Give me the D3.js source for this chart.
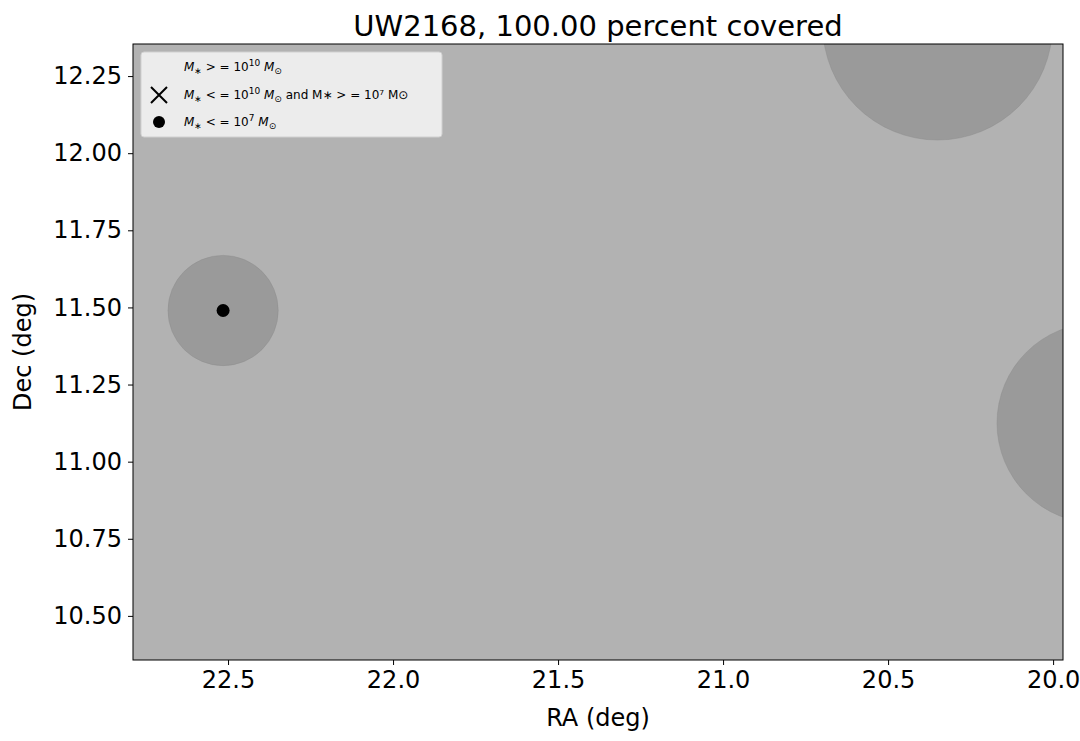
<!DOCTYPE html>
<html><head><meta charset="utf-8">
<script src="https://cdn.jsdelivr.net/npm/d3@7"></script>
<style>body{margin:0;background:#fff;font-family:"DejaVu Sans",sans-serif;}</style>
</head><body>
<svg id="svg1" width="1080" height="741"></svg>
<script>
// coverage circles (RA, Dec, radius in deg)
var circleRA = [22.515, 20.35, 19.867];
var circleDec = [11.49, 12.415, 11.125];
var circleR = [0.167, 0.348, 0.303];
// galaxies below 1e7 Msun
var smallRA = [22.515];
var smallDec = [11.49];
var xTicks = [22.5, 22.0, 21.5, 21.0, 20.5, 20.0];
var yTicks = [10.50, 10.75, 11.00, 11.25, 11.50, 11.75, 12.00, 12.25];

var marginLeft = 133, marginTop = 44, plotW = 930, plotH = 616;
var svg = d3.select('#svg1');

var x = d3.scaleLinear().domain([22.788, 19.97]).range([marginLeft, marginLeft + plotW]);
var y = d3.scaleLinear().domain([10.357, 12.354]).range([marginTop + plotH, marginTop]);

svg.append('defs').append('clipPath').attr('id', 'clip')
    .append('rect').attr('x', marginLeft).attr('y', marginTop).attr('width', plotW).attr('height', plotH);

svg.append('rect').attr('x', marginLeft).attr('y', marginTop).attr('width', plotW).attr('height', plotH)
    .attr('fill', '#b2b2b2');

var g = svg.append('g').attr('clip-path', 'url(#clip)');
g.selectAll('circle.cov').data(circleRA).enter().append('circle')
    .attr('cx', function (d) { return x(d); })
    .attr('cy', function (d, i) { return y(circleDec[i]); })
    .attr('r', function (d, i) { return x(22.5) - x(22.5 + circleR[i]) < 0 ? x(22.5) - x(22.5 + circleR[i]) : x(22.5) - x(22.5 - circleR[i]) ; })
    .attr('fill', '#8a8a8a').attr('fill-opacity', 0.6)
    .attr('stroke', '#8a8a8a').attr('stroke-opacity', 0.4);
// fix radius sign
g.selectAll('circle').attr('r', function (d, i) { return Math.abs(x(22.5) - x(22.5 + circleR[i])); });

g.selectAll('circle.small').data(smallRA).enter().append('circle')
    .attr('cx', function (d) { return x(d); })
    .attr('cy', function (d, i) { return y(smallDec[i]); })
    .attr('r', 6.5).attr('fill', '#000');

svg.append('rect').attr('x', marginLeft).attr('y', marginTop).attr('width', plotW).attr('height', plotH)
    .attr('fill', 'none').attr('stroke', '#000').attr('stroke-width', 1);

var xAxis = svg.append('g').attr('transform', 'translate(0,' + (marginTop + plotH) + ')')
    .call(d3.axisBottom(x).tickValues(xTicks).tickFormat(d3.format('.1f')).tickSize(5).tickPadding(6));
var yAxis = svg.append('g').attr('transform', 'translate(' + marginLeft + ',0)')
    .call(d3.axisLeft(y).tickValues(yTicks).tickFormat(d3.format('.2f')).tickSize(5).tickPadding(6));
[xAxis, yAxis].forEach(function (a) {
    a.select('.domain').remove();
    a.selectAll('text').attr('font-size', 24).attr('fill', '#000').attr('font-family', 'DejaVu Sans');
});

svg.append('text').attr('x', 598).attr('y', 726).attr('text-anchor', 'middle').attr('font-size', 24).text('RA (deg)');
svg.append('text').attr('transform', 'translate(31,352) rotate(-90)').attr('text-anchor', 'middle').attr('font-size', 24).text('Dec (deg)');
svg.append('text').attr('x', 598).attr('y', 36).attr('text-anchor', 'middle').attr('font-size', 29).text('UW2168, 100.00 percent covered');

// legend
var lg = svg.append('g');
lg.append('rect').attr('x', 141).attr('y', 52).attr('width', 301).attr('height', 85).attr('rx', 3)
    .attr('fill', '#efefef').attr('fill-opacity', 0.95).attr('stroke', '#d0d0d0');
var cx = 159;
lg.append('path').attr('d', d3.symbol().type(d3.symbolX).size(200)()).attr('transform', 'translate(' + cx + ',67)')
    .attr('fill', 'red');
lg.append('path').attr('d', 'M-8,-8L8,8M-8,8L8,-8').attr('transform', 'translate(' + cx + ',95)')
    .attr('stroke', '#000').attr('stroke-width', 2);
lg.append('circle').attr('cx', cx).attr('cy', 122).attr('r', 6).attr('fill', '#000');
var labels = [
    ['M', '∗', ' > = 10', '10', ' M', '⊙', ''],
    ['M', '∗', ' < = 10', '10', ' M', '⊙', ' and M∗ > = 10⁷ M⊙'],
    ['M', '∗', ' < = 10', '7', ' M', '⊙', '']
];
[71, 99, 126].forEach(function (yy, i) {
    var l = labels[i];
    var t = lg.append('text').attr('x', 184).attr('y', yy).attr('font-size', 12);
    t.append('tspan').attr('font-style', 'italic').text(l[0]);
    t.append('tspan').attr('font-size', 9).attr('dy', 3).text(l[1]);
    t.append('tspan').attr('dy', -3).text(l[2]);
    t.append('tspan').attr('font-size', 9).attr('dy', -5).text(l[3]);
    t.append('tspan').attr('dy', 5).attr('font-style', 'italic').text(l[4]);
    t.append('tspan').attr('font-size', 9).attr('dy', 3).text(l[5]);
    t.append('tspan').attr('dy', -3).text(l[6]);
});
</script>
</body></html>
